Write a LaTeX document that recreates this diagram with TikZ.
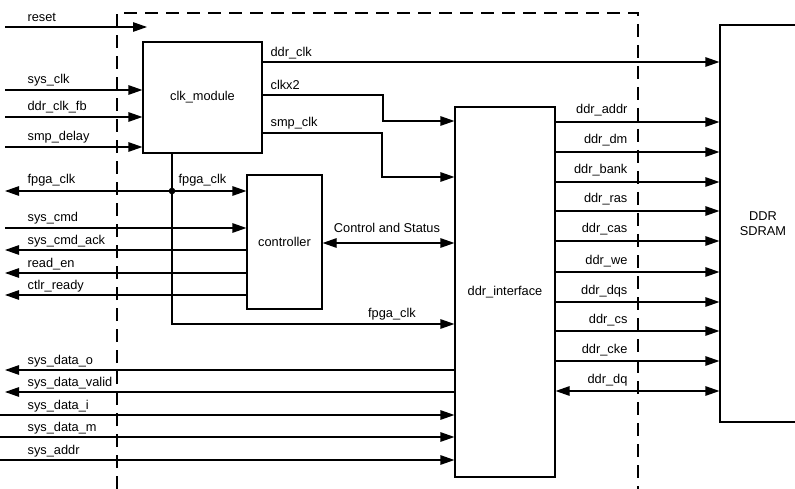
\documentclass[tikz,border=0pt]{standalone}
\usepackage{fontspec}
\setmainfont{Liberation Sans}
\usetikzlibrary{arrows.meta}
\newcommand\labfont{\fontsize{12.8}{14.5}\selectfont}
\begin{document}
\begin{tikzpicture}[x=1pt,y=-1pt, line width=1.2pt,
  arr/.style={-{Triangle[length=14pt,width=9.5pt]}},
  barr/.style={{Triangle[length=14pt,width=9.5pt]}-{Triangle[length=14pt,width=9.5pt]}},
  blk/.style={draw, line width=1.2pt, fill=white, inner sep=0pt, font=\labfont, align=center},
  lab/.style={inner sep=0pt, font=\labfont},
  bound/.style={dash pattern=on 13pt off 8pt, line width=1.2pt}]
\useasboundingbox (0,0) rectangle (795,489);
\fill[white] (0,0) rectangle (795,489);
% FPGA boundary
\draw[bound] (117,489) -- (117,13) -- (638,13) -- (638,489);
% blocks
\node[blk, minimum width=119pt, minimum height=111pt] (clk) at (202.5,97.5) {clk\_module};
\node[blk, minimum width=75pt, minimum height=134pt] (ctrl) at (284.5,242) {controller};
\node[blk, minimum width=100pt, minimum height=370pt] (ddri) at (505,292) {ddr\_interface};
\node[blk, minimum width=86pt, minimum height=397pt] (sdram) at (763,223.5) {DDR\\SDRAM};
% reset
\coordinate (rs) at (5,27);
\coordinate (rse) at (147,27);
\draw[arr] (rs) -- (rse);
\node[lab, anchor=base west] (lreset) at (27,22) {reset};
% clk inputs
\foreach \nm/\yy in {sysclk/90, ddrclkfb/117, smpdelay/147}{
  \coordinate (\nm) at (5,\yy);
  \draw[arr] (\nm) -- (\nm -| clk.west);
}
\node[lab, anchor=base west] (lsysclk) at (27,84) {sys\_clk};
\node[lab, anchor=base west] (lddrclkfb) at (27,111) {ddr\_clk\_fb};
\node[lab, anchor=base west] (lsmpdelay) at (27,141) {smp\_delay};
% fpga_clk
\coordinate (j) at (172,191);
\coordinate (fpl) at (5,191);
\coordinate (jb) at (172,324);
\draw[arr] (j) -- (fpl);
\draw[arr] (j) -- (j -| ctrl.west);
\draw[arr] (clk.south -| j) -- (jb) -- (jb -| ddri.west);
\fill (j) circle (3.3pt);
\node[lab, anchor=base west] (lfpga1) at (27,184) {fpga\_clk};
\node[lab, anchor=base west] (lfpga2) at (178,184) {fpga\_clk};
\node[lab, anchor=base] (lfpga3) at (392,317) {fpga\_clk};
% controller signals
\coordinate (sc) at (5,228);
\draw[arr] (sc) -- (sc -| ctrl.west);
\foreach \nm/\yy in {sca/250, rde/273, ctr/295}{
  \coordinate (\nm) at (5,\yy);
  \draw[arr] (\nm -| ctrl.west) -- (\nm);
}
\node[lab, anchor=base west] (lsc) at (27,222) {sys\_cmd};
\node[lab, anchor=base west] (lsca) at (27,244) {sys\_cmd\_ack};
\node[lab, anchor=base west] (lrde) at (27,267) {read\_en};
\node[lab, anchor=base west] (lctr) at (27,289) {ctlr\_ready};
% control and status
\coordinate (cst) at (400,243);
\draw[barr] (cst -| ctrl.east) -- (cst -| ddri.west);
\node[lab, anchor=base] (lcst) at (387,233) {Control and Status};
% clocks out of clk_module
\coordinate (dc) at (300,62);
\draw[arr] (dc -| clk.east) -- (dc -| sdram.west);
\node[lab, anchor=base west] (ldc) at (270,57) {ddr\_clk};
\coordinate (c2a) at (383,95);
\coordinate (c2b) at (383,121);
\draw[arr] (c2a -| clk.east) -- (c2a) -- (c2b) -- (c2b -| ddri.west);
\node[lab, anchor=base west] (lc2) at (270,90) {clkx2};
\coordinate (spa) at (382,133);
\coordinate (spb) at (382,177);
\draw[arr] (spa -| clk.east) -- (spa) -- (spb) -- (spb -| ddri.west);
\node[lab, anchor=base west] (lsp) at (270,127) {smp\_clk};
% ddr signals
\foreach \nm/\txt/\yy in {a/ddr\_addr/122, b/ddr\_dm/152, c/ddr\_bank/182, d/ddr\_ras/211, e/ddr\_cas/241, f/ddr\_we/272, g/ddr\_dqs/302, h/ddr\_cs/331, i/ddr\_cke/361}{
  \coordinate (r\nm) at (600,\yy);
  \draw[arr] (r\nm -| ddri.east) -- (r\nm -| sdram.west);
  \node[lab, anchor=base east] (lr\nm) at (628,\yy-8) {\txt};
}
\coordinate (rdq) at (600,391);
\draw[barr] (rdq -| ddri.east) -- (rdq -| sdram.west);
\node[lab, anchor=base east] (lrdq) at (628,383) {ddr\_dq};
% system data
\foreach \nm/\yy in {sdo/370, sdv/392}{
  \coordinate (\nm) at (5,\yy);
  \draw[arr] (\nm -| ddri.west) -- (\nm);
}
\foreach \nm/\yy in {sdi/415, sdm/437, sad/460}{
  \coordinate (\nm) at (0,\yy);
  \draw[arr] (\nm) -- (\nm -| ddri.west);
}
\node[lab, anchor=base west] (lsdo) at (27,364) {sys\_data\_o};
\node[lab, anchor=base west] (lsdv) at (27,386) {sys\_data\_valid};
\node[lab, anchor=base west] (lsdi) at (27,409) {sys\_data\_i};
\node[lab, anchor=base west] (lsdm) at (27,431) {sys\_data\_m};
\node[lab, anchor=base west] (lsad) at (27,454) {sys\_addr};
\end{tikzpicture}
\end{document}
